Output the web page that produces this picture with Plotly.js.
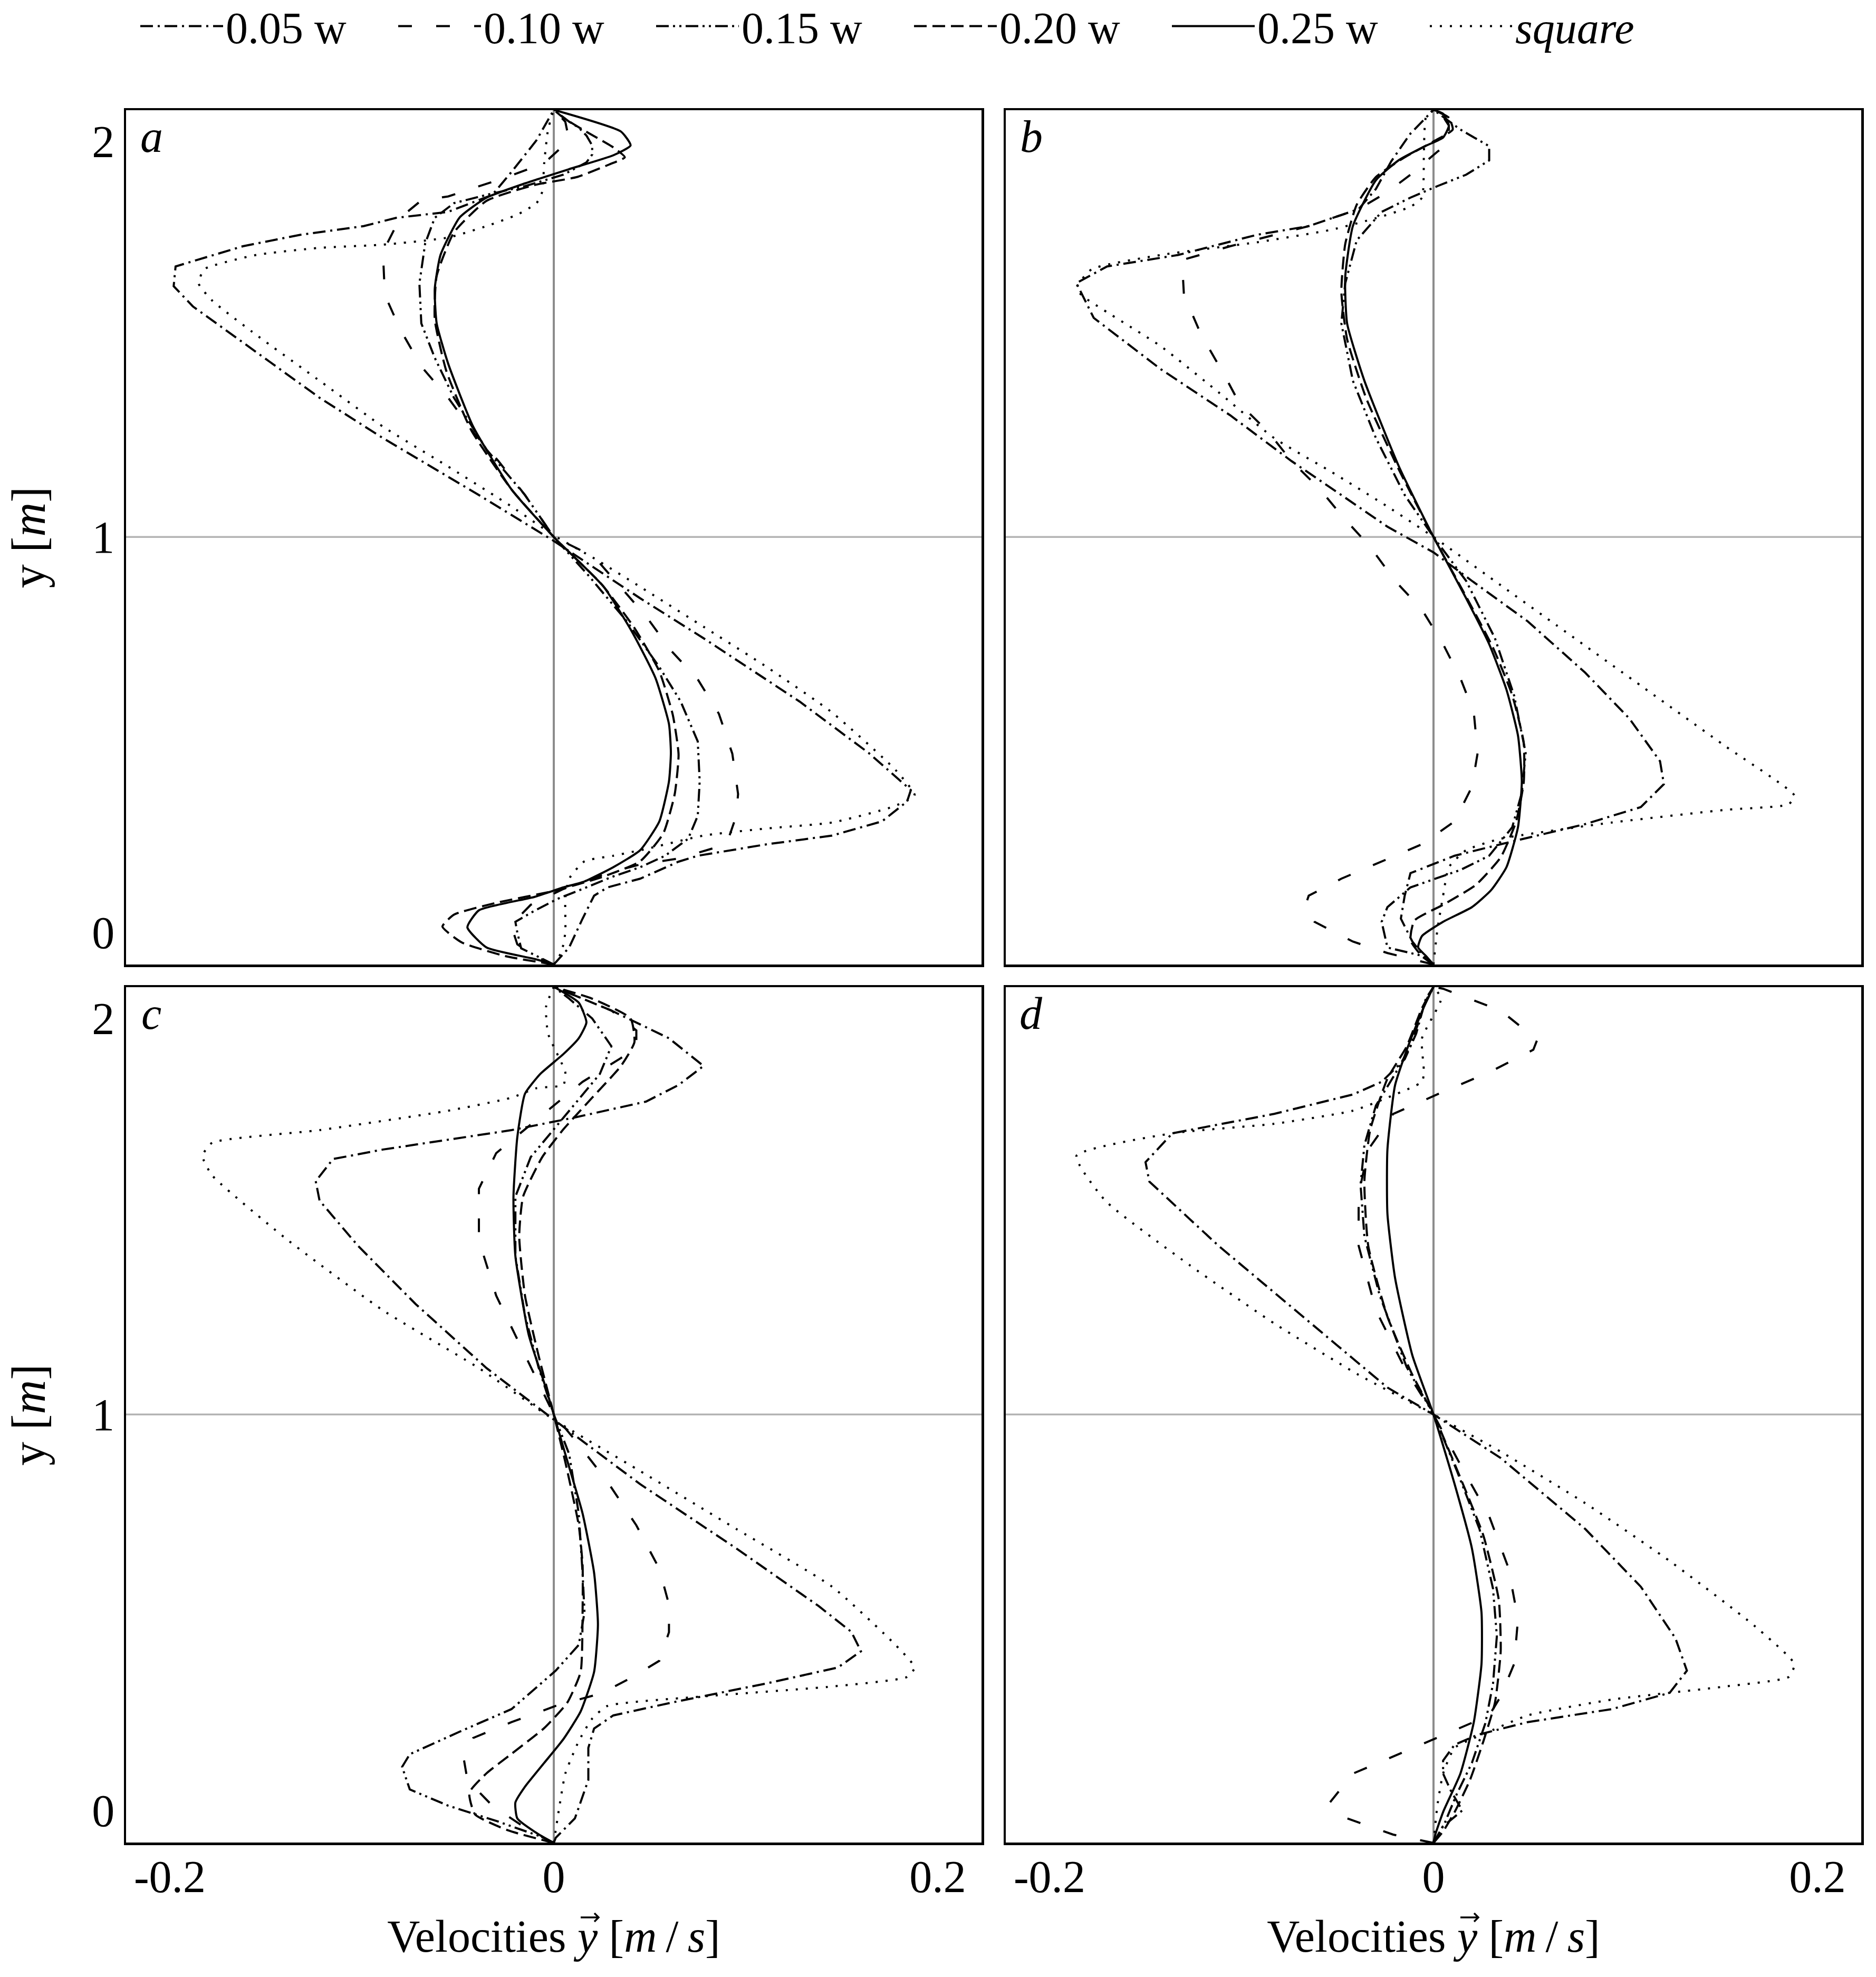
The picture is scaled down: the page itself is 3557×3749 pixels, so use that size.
<!DOCTYPE html>
<html>
<head>
<meta charset="utf-8">
<script src="https://cdn.plot.ly/plotly-3.0.1.min.js"></script>
<style>
  html, body { margin: 0; padding: 0; background: #fff; }
  #chart { width: 3557px; height: 3749px; }
</style>
</head>
<body>
<div id="chart"></div>
<script>
// ===== data: [velocity (m/s), height y (m)] =====
const seriesNames = ["0.05 w", "0.10 w", "0.15 w", "0.20 w", "0.25 w", "<i>square</i>"];
const panelLetters = ["a", "b", "c", "d"];
const xTickVals = [-0.2, 0, 0.2];
const xTickText = ["-0.2", "0", "0.2"];
const yTickVals = [0, 1, 2];

// --- panel a ---
const a_w05 = [[0,-0.081],[0.008,-0.038],[0.015,0.035],[0.021,0.093],[0.028,0.114],[0.045,0.136],[0.065,0.179],[0.075,0.194],[0.111,0.223],[0.145,0.245],[0.171,0.281],[0.184,0.331],[0.186,0.36],[0.164,0.454],[0.128,0.584],[0.078,0.744],[0.045,0.845],[0,0.99],[-0.039,1.106],[-0.089,1.25],[-0.122,1.352],[-0.155,1.467],[-0.188,1.583],[-0.198,1.634],[-0.197,1.684],[-0.162,1.735],[-0.132,1.764],[-0.099,1.786],[-0.082,1.807],[-0.055,1.822],[-0.032,1.865],[-0.022,1.923],[-0.009,2.003],[0,2.08]];
const a_w10 = [[0,-0.081],[-0.010,-0.06],[-0.019,-0.03],[-0.021,0.0],[-0.020,0.03],[-0.012,0.07],[0.005,0.11],[0.028,0.15],[0.045,0.172],[0.065,0.187],[0.090,0.223],[0.095,0.294],[0.096,0.35],[0.093,0.452],[0.086,0.553],[0.075,0.64],[0.061,0.713],[0.048,0.8],[0.021,0.95],[0,1],[-0.015,1.106],[-0.029,1.193],[-0.042,1.265],[-0.055,1.352],[-0.069,1.431],[-0.080,1.525],[-0.088,1.612],[-0.089,1.721],[-0.080,1.807],[-0.069,1.851],[-0.055,1.861],[-0.025,1.909],[-0.005,1.945],[0.008,2.003],[0.006,2.05],[0,2.08]];
const a_w15 = [[0,-0.081],[-0.008,-0.062],[-0.017,-0.04],[-0.019,0.0],[-0.020,0.027],[-0.010,0.055],[0.002,0.085],[0.015,0.11],[0.030,0.14],[0.045,0.165],[0.058,0.194],[0.070,0.237],[0.075,0.295],[0.076,0.382],[0.075,0.483],[0.066,0.585],[0.055,0.671],[0.038,0.787],[0.018,0.903],[0,1],[-0.015,1.106],[-0.035,1.221],[-0.052,1.352],[-0.062,1.453],[-0.069,1.54],[-0.070,1.641],[-0.067,1.742],[-0.062,1.807],[-0.052,1.844],[-0.035,1.865],[-0.015,1.887],[0.005,1.916],[0.017,1.947],[0.020,1.967],[0.020,1.99],[0.017,2.015],[0.013,2.035],[0.008,2.05],[0,2.08]];
const a_w20 = [[0,-0.081],[-0.025,-0.06],[-0.048,-0.025],[-0.058,0.015],[-0.052,0.045],[-0.030,0.075],[0.0,0.105],[0.025,0.14],[0.045,0.18],[0.057,0.25],[0.063,0.35],[0.065,0.45],[0.062,0.55],[0.055,0.66],[0.042,0.77],[0.025,0.88],[0,1.0],[-0.022,1.12],[-0.043,1.27],[-0.056,1.42],[-0.062,1.55],[-0.061,1.66],[-0.052,1.77],[-0.035,1.85],[-0.010,1.89],[0.012,1.91],[0.029,1.942],[0.037,1.96],[0.031,1.985],[0.015,2.03],[0.005,2.06],[0,2.08]];
const a_w25 = [[0,-0.081],[-0.010,-0.067],[-0.035,-0.038],[-0.045,0.013],[-0.039,0.056],[-0.010,0.09],[0.005,0.114],[0.016,0.129],[0.031,0.165],[0.045,0.208],[0.055,0.281],[0.060,0.382],[0.061,0.454],[0.060,0.527],[0.053,0.643],[0.041,0.758],[0.026,0.874],[0,1.0],[-0.022,1.12],[-0.042,1.279],[-0.055,1.438],[-0.061,1.54],[-0.062,1.627],[-0.059,1.713],[-0.049,1.808],[-0.035,1.858],[-0.015,1.894],[0.008,1.93],[0.031,1.965],[0.040,1.99],[0.035,2.025],[0,2.08]];
const a_sq = [[0,-0.081],[0.004,-0.05],[0.006,0.0],[0.006,0.05],[0.006,0.087],[0.008,0.136],[0.016,0.18],[0.031,0.194],[0.048,0.211],[0.078,0.245],[0.111,0.263],[0.145,0.278],[0.176,0.317],[0.188,0.346],[0.178,0.411],[0.145,0.556],[0.111,0.671],[0.078,0.773],[0.045,0.874],[0.021,0.946],[0,1.004],[-0.022,1.077],[-0.055,1.178],[-0.089,1.279],[-0.122,1.395],[-0.155,1.511],[-0.178,1.598],[-0.185,1.641],[-0.182,1.677],[-0.155,1.713],[-0.122,1.731],[-0.089,1.739],[-0.055,1.757],[-0.035,1.786],[-0.019,1.815],[-0.009,1.844],[-0.006,1.873],[-0.005,1.945],[-0.003,2.03],[0,2.08]];

// --- panel b ---
const b_w05 = [[0,-0.081],[-0.004,-0.067],[-0.011,-0.023],[-0.017,0.035],[-0.015,0.093],[-0.012,0.15],[0.011,0.194],[0.035,0.223],[0.079,0.274],[0.108,0.317],[0.120,0.375],[0.118,0.433],[0.102,0.541],[0.079,0.657],[0.049,0.787],[0.020,0.889],[0,0.961],[-0.024,1.026],[-0.048,1.106],[-0.074,1.192],[-0.106,1.308],[-0.142,1.424],[-0.177,1.554],[-0.186,1.642],[-0.170,1.684],[-0.133,1.713],[-0.092,1.764],[-0.065,1.786],[-0.039,1.829],[-0.030,1.88],[-0.022,1.95],[-0.012,2.02],[0,2.08]];
const b_w10 = [[0,-0.081],[-0.024,-0.052],[-0.042,-0.023],[-0.062,0.027],[-0.067,0.064],[-0.065,0.093],[-0.048,0.136],[-0.027,0.179],[-0.006,0.223],[0.011,0.281],[0.020,0.368],[0.023,0.454],[0.021,0.556],[0.014,0.643],[0.005,0.729],[-0.006,0.816],[-0.020,0.889],[-0.033,0.975],[-0.048,1.055],[-0.059,1.12],[-0.074,1.192],[-0.086,1.265],[-0.101,1.337],[-0.109,1.41],[-0.121,1.511],[-0.130,1.612],[-0.131,1.70],[-0.106,1.735],[-0.065,1.786],[-0.039,1.829],[-0.024,1.872],[-0.012,1.916],[0.002,1.974],[0.008,1.996],[0.008,2.04],[0.004,2.07],[0,2.08]];
const b_w15 = [[0,-0.081],[-0.006,-0.059],[-0.024,-0.038],[-0.027,0.027],[-0.024,0.064],[-0.012,0.114],[0.014,0.158],[0.029,0.194],[0.041,0.266],[0.046,0.353],[0.048,0.454],[0.042,0.599],[0.032,0.744],[0.017,0.889],[0,1],[-0.015,1.106],[-0.030,1.25],[-0.042,1.395],[-0.048,1.54],[-0.046,1.641],[-0.040,1.75],[-0.027,1.822],[-0.012,1.858],[0.002,1.887],[0.017,1.916],[0.029,1.952],[0.029,1.988],[0.014,2.03],[0,2.08]];
const b_w20 = [[0,-0.081],[-0.006,-0.06],[-0.012,-0.02],[-0.010,0.03],[0.005,0.07],[0.022,0.12],[0.035,0.19],[0.043,0.28],[0.047,0.38],[0.047,0.48],[0.041,0.6],[0.031,0.72],[0.018,0.84],[0,1],[-0.018,1.17],[-0.035,1.35],[-0.045,1.5],[-0.048,1.62],[-0.046,1.74],[-0.040,1.84],[-0.030,1.91],[-0.015,1.96],[0.0,2.0],[0.010,2.03],[0.008,2.06],[0,2.08]];
const b_w25 = [[0,-0.081],[-0.004,-0.059],[-0.008,-0.038],[-0.006,-0.009],[0.005,0.027],[0.020,0.064],[0.030,0.107],[0.038,0.165],[0.044,0.266],[0.046,0.382],[0.044,0.498],[0.038,0.614],[0.029,0.729],[0.017,0.845],[0,1],[-0.018,1.178],[-0.036,1.395],[-0.045,1.54],[-0.046,1.656],[-0.042,1.786],[-0.030,1.902],[-0.018,1.953],[-0.004,1.989],[0.005,2.01],[0.008,2.04],[0.005,2.07],[0,2.08]];
const b_sq = [[0,-0.081],[0.002,0.006],[0.005,0.093],[0.008,0.165],[0.017,0.208],[0.035,0.237],[0.093,0.278],[0.152,0.31],[0.185,0.324],[0.188,0.346],[0.152,0.471],[0.108,0.624],[0.064,0.777],[0.035,0.878],[0,1.0],[-0.024,1.077],[-0.053,1.164],[-0.083,1.25],[-0.112,1.366],[-0.142,1.482],[-0.183,1.61],[-0.186,1.63],[-0.178,1.677],[-0.142,1.713],[-0.092,1.745],[-0.053,1.777],[-0.030,1.806],[-0.012,1.835],[-0.006,1.858],[-0.005,1.974],[-0.004,2.06],[0,2.08]];

// --- panel c ---
const c_w05 = [[0,-0.082],[0.001,-0.069],[0.011,-0.02],[0.018,0.077],[0.018,0.158],[0.021,0.207],[0.031,0.24],[0.061,0.272],[0.111,0.321],[0.148,0.361],[0.160,0.402],[0.155,0.451],[0.138,0.516],[0.095,0.662],[0.045,0.824],[0,0.987],[-0.035,1.117],[-0.072,1.279],[-0.102,1.426],[-0.122,1.54],[-0.124,1.589],[-0.115,1.645],[-0.089,1.669],[-0.055,1.694],[-0.022,1.718],[0.011,1.75],[0.048,1.79],[0.065,1.832],[0.078,1.88],[0.060,1.95],[0.030,2.02],[0,2.08]];
const c_w10 = [[0,-0.082],[-0.012,-0.053],[-0.032,0.012],[-0.045,0.077],[-0.047,0.134],[-0.042,0.183],[-0.022,0.223],[0.001,0.264],[0.025,0.296],[0.041,0.337],[0.055,0.378],[0.060,0.45],[0.060,0.52],[0.055,0.61],[0.043,0.72],[0.028,0.83],[0.012,0.93],[0,1.0],[-0.015,1.15],[-0.030,1.30],[-0.039,1.44],[-0.039,1.57],[-0.030,1.66],[-0.015,1.72],[0.0,1.78],[0.015,1.84],[0.035,1.90],[0.043,1.93],[0.043,1.97],[0.030,2.02],[0,2.08]];
const c_w15 = [[0,-0.082],[-0.005,-0.069],[-0.029,-0.028],[-0.055,0.012],[-0.075,0.053],[-0.079,0.11],[-0.075,0.142],[-0.049,0.199],[-0.022,0.256],[0.001,0.353],[0.013,0.418],[0.016,0.5],[0.015,0.6],[0.013,0.75],[0.008,0.9],[0,1.0],[-0.008,1.12],[-0.015,1.25],[-0.020,1.4],[-0.020,1.55],[-0.012,1.65],[0.0,1.72],[0.012,1.79],[0.024,1.86],[0.030,1.93],[0.020,2.0],[0.008,2.05],[0,2.08]];
const c_w20 = [[0,-0.082],[-0.024,-0.05],[-0.041,-0.01],[-0.044,0.045],[-0.035,0.094],[-0.022,0.143],[-0.005,0.208],[0.007,0.272],[0.014,0.35],[0.015,0.5],[0.015,0.62],[0.013,0.72],[0.006,0.88],[0,1.0],[-0.008,1.15],[-0.015,1.3],[-0.018,1.45],[-0.016,1.55],[-0.006,1.65],[0.005,1.72],[0.020,1.80],[0.035,1.88],[0.042,1.94],[0.040,2.0],[0.020,2.05],[0,2.08]];
const c_w25 = [[0,-0.082],[-0.008,-0.06],[-0.019,-0.02],[-0.020,0.02],[-0.015,0.06],[-0.005,0.12],[0.005,0.18],[0.014,0.25],[0.021,0.35],[0.023,0.47],[0.021,0.6],[0.015,0.75],[0.006,0.9],[0,1.0],[-0.005,1.08],[-0.013,1.2],[-0.020,1.4],[-0.021,1.55],[-0.019,1.70],[-0.015,1.81],[-0.007,1.86],[0.005,1.91],[0.013,1.95],[0.017,1.99],[0.013,2.04],[0,2.08]];
const c_sq = [[0,-0.082],[0.003,0.012],[0.006,0.093],[0.013,0.175],[0.020,0.232],[0.028,0.264],[0.078,0.288],[0.145,0.313],[0.184,0.337],[0.188,0.361],[0.178,0.418],[0.145,0.565],[0.095,0.711],[0.045,0.857],[0,0.987],[-0.039,1.117],[-0.089,1.263],[-0.139,1.442],[-0.178,1.604],[-0.183,1.653],[-0.178,1.686],[-0.122,1.718],[-0.055,1.767],[-0.022,1.80],[-0.009,1.824],[0.005,1.832],[0.006,1.864],[-0.003,1.962],[-0.004,2.03],[0,2.08]];

// --- panel d ---
const d_w05 = [[0,-0.082],[0.005,-0.04],[0.015,0.0],[0.009,0.05],[0.005,0.093],[0.005,0.126],[0.011,0.166],[0.023,0.191],[0.049,0.223],[0.093,0.256],[0.123,0.297],[0.132,0.353],[0.126,0.435],[0.108,0.565],[0.079,0.711],[0.035,0.89],[0,1.0],[-0.024,1.068],[-0.068,1.247],[-0.112,1.426],[-0.148,1.588],[-0.150,1.637],[-0.136,1.71],[-0.083,1.759],[-0.042,1.808],[-0.027,1.84],[-0.015,1.897],[-0.009,1.962],[-0.004,2.05],[0,2.08]];
const d_w10 = [[0,-0.082],[-0.021,-0.061],[-0.045,-0.02],[-0.054,0.02],[-0.042,0.093],[-0.018,0.142],[0.005,0.19],[0.029,0.24],[0.035,0.288],[0.042,0.37],[0.044,0.483],[0.039,0.613],[0.029,0.743],[0.014,0.873],[0,1],[-0.015,1.117],[-0.030,1.263],[-0.039,1.426],[-0.039,1.556],[-0.034,1.669],[-0.021,1.759],[-0.006,1.791],[0.005,1.815],[0.029,1.864],[0.052,1.921],[0.054,1.946],[0.035,2.02],[0.005,2.075],[0,2.08]];
const d_w15 = [[0,-0.082],[0.006,-0.03],[0.012,0.04],[0.020,0.12],[0.027,0.22],[0.031,0.32],[0.033,0.44],[0.031,0.56],[0.024,0.71],[0.012,0.86],[0,1],[-0.014,1.12],[-0.028,1.3],[-0.036,1.45],[-0.038,1.58],[-0.036,1.68],[-0.030,1.78],[-0.020,1.86],[-0.012,1.93],[-0.005,2.03],[0,2.08]];
const d_w20 = [[0,-0.082],[0.005,-0.053],[0.011,-0.004],[0.019,0.077],[0.026,0.175],[0.032,0.272],[0.035,0.402],[0.034,0.532],[0.026,0.694],[0.014,0.84],[0,1],[-0.011,1.1],[-0.024,1.247],[-0.034,1.426],[-0.036,1.588],[-0.033,1.718],[-0.024,1.848],[-0.014,1.929],[-0.006,2.026],[0,2.08]];
const d_w25 = [[0,-0.082],[0.001,-0.06],[0.005,-0.004],[0.014,0.093],[0.021,0.223],[0.025,0.37],[0.025,0.5],[0.020,0.662],[0.011,0.824],[0,1],[-0.011,1.149],[-0.020,1.344],[-0.024,1.507],[-0.024,1.669],[-0.020,1.832],[-0.012,1.946],[-0.004,2.04],[0,2.08]];
const d_sq = [[0,-0.082],[0.002,0.012],[0.005,0.093],[0.011,0.158],[0.029,0.199],[0.049,0.24],[0.093,0.28],[0.152,0.313],[0.185,0.337],[0.188,0.37],[0.167,0.467],[0.123,0.63],[0.079,0.776],[0.035,0.906],[0,1.0],[-0.039,1.1],[-0.083,1.23],[-0.127,1.377],[-0.171,1.54],[-0.186,1.653],[-0.136,1.71],[-0.083,1.734],[-0.042,1.767],[-0.024,1.80],[-0.006,1.84],[-0.005,1.864],[-0.006,1.95],[0.004,2.05],[0,2.08]];

const panels = [
  [a_w05, a_w10, a_w15, a_w20, a_w25, a_sq],
  [b_w05, b_w10, b_w15, b_w20, b_w25, b_sq],
  [c_w05, c_w10, c_w15, c_w20, c_w25, c_sq],
  [d_w05, d_w10, d_w15, d_w20, d_w25, d_sq]
];

// ===== styles =====
const FONT = '"Liberation Serif", "DejaVu Serif", serif';
const dashes = ["24px,9px,4px,9px", "26px,46px", "24px,8px,4px,8px,4px,8px", "24px,11px", "solid", "4px,15px"];
const W = 3557, H = 3749;
const TOP = 180;                 // fixed top margin that holds the legend
const PH = H - TOP;              // plot-area height
// panel frames in pixels of the page (left, right) and (top, bottom)
const colPx = [[239, 1861], [1907, 3529]];
const rowPx = [[209, 1829], [1872, 3494]];
const xRange = [-0.2228, 0.2228];
const yRange = [-0.081, 2.079];
const px2x = px => px / W;                  // page pixel column -> paper fraction
const px2y = px => 1 - (px - TOP) / PH;     // page pixel row -> paper fraction

const traces = [];
panels.forEach((series, p) => {
  const sfx = p === 0 ? "" : String(p + 1);
  series.forEach((pts, s) => {
    traces.push({
      x: pts.map(d => d[0]),
      y: pts.map(d => d[1]),
      xaxis: "x" + sfx,
      yaxis: "y" + sfx,
      type: "scatter",
      mode: "lines",
      name: seriesNames[s],
      legendgroup: "g" + s,
      showlegend: p === 0,
      hoverinfo: "skip",
      line: {
        color: "#000",
        width: 4,
        dash: dashes[s],
        shape: s >= 3 ? "spline" : "linear",
        smoothing: 0.5
      }
    });
  });
});

function xAxis(p) {
  const col = p % 2, row = Math.floor(p / 2);
  return {
    domain: [px2x(colPx[col][0]), px2x(colPx[col][1])],
    anchor: "y" + (p === 0 ? "" : p + 1),
    range: xRange,
    showline: true, mirror: true, linecolor: "#000", linewidth: 4.5,
    showgrid: false, ticks: "", automargin: false,
    zeroline: true, zerolinecolor: "#8c8c8c", zerolinewidth: 3.5,
    tickmode: "array", tickvals: xTickVals, ticktext: xTickText,
    showticklabels: row === 1,
    ticklabelstandoff: -14,
    fixedrange: true,
    title: row === 1 ? {
      text: "Velocities <i>y</i> [<i>m</i>\u2009/\u2009<i>s</i>]",
      standoff: 36,
      font: { family: FONT, size: 86, color: "#000" }
    } : undefined
  };
}

function yAxis(p) {
  const col = p % 2, row = Math.floor(p / 2);
  return {
    domain: [px2y(rowPx[row][1]), px2y(rowPx[row][0])],
    anchor: "x" + (p === 0 ? "" : p + 1),
    range: yRange,
    showline: true, mirror: true, linecolor: "#000", linewidth: 4.5,
    showgrid: false, ticks: "", zeroline: false, automargin: false,
    tickmode: "array", tickvals: yTickVals,
    showticklabels: col === 0,
    ticklabelstandoff: 0,
    fixedrange: true,
    title: col === 0 ? {
      text: "y [<i>m</i>]",
      standoff: 60,
      font: { family: FONT, size: 90, color: "#000" }
    } : undefined
  };
}

const layout = {
  width: W, height: H,
  margin: { l: 0, r: 0, t: TOP, b: 0, autoexpand: false },
  paper_bgcolor: "#fff",
  plot_bgcolor: "#fff",
  font: { family: FONT, size: 86, color: "#000" },
  showlegend: true,
  legend: {
    orientation: "h",
    xref: "container", yref: "container",
    x: 261 / W, xanchor: "left",
    y: 1 - 50 / H, yanchor: "middle",
    font: { family: FONT, size: 84, color: "#000" },
    itemwidth: 157,
    entrywidth: 317, entrywidthmode: "pixels",
    bgcolor: "rgba(0,0,0,0)",
    traceorder: "normal"
  },
  shapes: [],
  annotations: []
};

for (let p = 0; p < 4; p++) {
  const sfx = p === 0 ? "" : String(p + 1);
  layout["xaxis" + sfx] = xAxis(p);
  layout["yaxis" + sfx] = yAxis(p);
  // light grey reference line at y = 1
  layout.shapes.push({
    type: "line", layer: "below",
    xref: "x" + sfx + " domain", x0: 0, x1: 1,
    yref: "y" + sfx, y0: 1, y1: 1,
    line: { color: "#b4b4b4", width: 3.5 }
  });
  // panel letter
  layout.annotations.push({
    xref: "x" + sfx + " domain", yref: "y" + sfx + " domain",
    x: 48 / 1622, y: 1 - 50 / 1620,
    xanchor: "center", yanchor: "middle",
    text: "<i>" + panelLetters[p] + "</i>",
    showarrow: false,
    font: { family: FONT, size: 86, color: "#000" }
  });
}

// vector arrow drawn over the y of each velocity title
colPx.forEach(c => {
  const cx = (c[0] + c[1]) / 2 + 68, cy = 3636, half = 17, head = 8;
  const path = "M" + px2x(cx - half) + "," + px2y(cy) +
    " L" + px2x(cx + half) + "," + px2y(cy) +
    " M" + px2x(cx + half - head) + "," + px2y(cy - head) +
    " L" + px2x(cx + half) + "," + px2y(cy) +
    " L" + px2x(cx + half - head) + "," + px2y(cy + head);
  layout.shapes.push({
    type: "path", xref: "paper", yref: "paper", path: path,
    line: { color: "#000", width: 3.5 }
  });
});

Plotly.newPlot("chart", traces, layout, { staticPlot: true, displayModeBar: false });
</script>
</body>
</html>
